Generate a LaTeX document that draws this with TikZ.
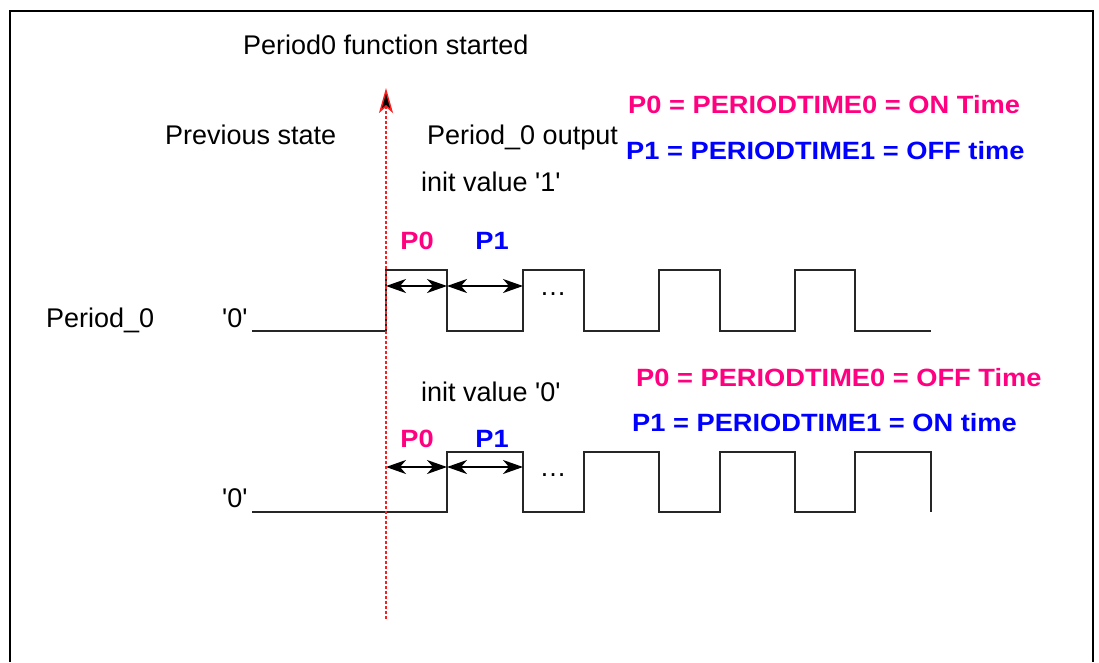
\documentclass[tikz,border=0pt]{standalone}
\usepackage{fontspec}
\setmainfont{Liberation Sans}
\usetikzlibrary{arrows.meta}
\definecolor{pinkc}{RGB}{255,0,128}
\definecolor{bluec}{RGB}{0,0,255}
\definecolor{redc}{RGB}{255,30,30}
\newcommand{\sq}{\textquotesingle}
\begin{document}
\begin{tikzpicture}[x=1pt,y=-1pt,
  lbl/.style={anchor=base west,inner sep=0pt,font=\fontsize{27}{30}\selectfont},
  bl/.style={anchor=base west,inner sep=0pt,font=\fontsize{25}{28}\selectfont\bfseries},
  wave/.style={line width=2pt,draw=black!85,line join=miter},
  dimarrow/.style={line width=1.5pt,{Stealth[length=20pt,width=14pt,inset=6pt]}-{Stealth[length=20pt,width=14pt,inset=6pt]}},
  startarrow/.style={line width=1.5pt,draw=redc,dash pattern=on 3pt off 2pt,-{Stealth[length=25pt,width=14pt,inset=6pt,fill=black,line width=1.5pt]}},
]
\useasboundingbox (0,0) rectangle (1099,662);
% frame (open at the bottom)
\coordinate (fbl) at (10,662);
\coordinate (ftl) at (10,11);
\coordinate (ftr) at (1093,11);
\coordinate (fbr) at (1093,662);
\draw[line width=2pt] (fbl) -- (ftl) -- (ftr) -- (fbr);

% texts
\node[lbl] (title) at (243,54.7) {Period0 function started};
\node[lbl] (prev) at (165,144.7) {Previous state};
\node[lbl] (outp) at (427,144.7) {Period\_0 output};
\node[lbl] (init1) at (421,191) {init value \sq1\sq};
\node[lbl] (per0) at (46,327) {Period\_0};
\node[lbl] (zeroA) at (222,327) {\sq0\sq};
\node[lbl] (init0) at (421,401) {init value \sq0\sq};
\node[lbl] (zeroB) at (222,507) {\sq0\sq};

\node[bl,text=pinkc] (eqA) at (628,113) {\scalebox{1.09}[1]{P0 = PERIODTIME0 = ON Time}};
\node[bl,text=bluec] (eqB) at (626,159) {\scalebox{1.09}[1]{P1 = PERIODTIME1 = OFF time}};
\node[bl,text=pinkc] (eqC) at (636,386) {\scalebox{1.09}[1]{P0 = PERIODTIME0 = OFF Time}};
\node[bl,text=bluec] (eqD) at (632,431) {\scalebox{1.09}[1]{P1 = PERIODTIME1 = ON time}};

% top waveform
\coordinate (a0) at (252,331);
\draw[wave] (a0) -- (386,331) -- (386,270) -- (447,270) -- (447,331) -- (523,331) -- (523,270)
  -- (584,270) -- (584,331) -- (659,331) -- (659,270) -- (720,270) -- (720,331) -- (795,331)
  -- (795,270) -- (855,270) -- (855,331) -- (931,331);

% bottom waveform
\coordinate (b0) at (252,512);
\draw[wave] (b0) -- (447,512) -- (447,452) -- (523,452) -- (523,512) -- (584,512) -- (584,452)
  -- (659,452) -- (659,512) -- (720,512) -- (720,452) -- (795,452) -- (795,512) -- (855,512)
  -- (855,452) -- (931,452) -- (931,512);

% dimension arrows
\coordinate (ta1) at (386,286);
\coordinate (ta2) at (447,286);
\coordinate (ta3) at (523,286);
\coordinate (ba1) at (386,467);
\coordinate (ba2) at (447,467);
\coordinate (ba3) at (523,467);
\draw[dimarrow] (ta1) -- (ta2);
\draw[dimarrow] (ta2) -- (ta3);
\draw[dimarrow] (ba1) -- (ba2);
\draw[dimarrow] (ba2) -- (ba3);

\node[bl,anchor=base,text=pinkc] (p0a) at (417,249.5) {\scalebox{1.09}[1]{P0}};
\node[bl,anchor=base,text=bluec] (p1a) at (492,249.5) {\scalebox{1.09}[1]{P1}};
\node[bl,anchor=base,text=pinkc] (p0b) at (417,447) {\scalebox{1.09}[1]{P0}};
\node[bl,anchor=base,text=bluec] (p1b) at (492,447) {\scalebox{1.09}[1]{P1}};
\node[lbl,anchor=base] (dotsA) at (553,295) {…};
\node[lbl,anchor=base] (dotsB) at (553,476) {…};

% start marker
\coordinate (s0) at (386,619);
\coordinate (s1) at (386,88);
\draw[startarrow] (s0) -- (s1);
\end{tikzpicture}
\end{document}
